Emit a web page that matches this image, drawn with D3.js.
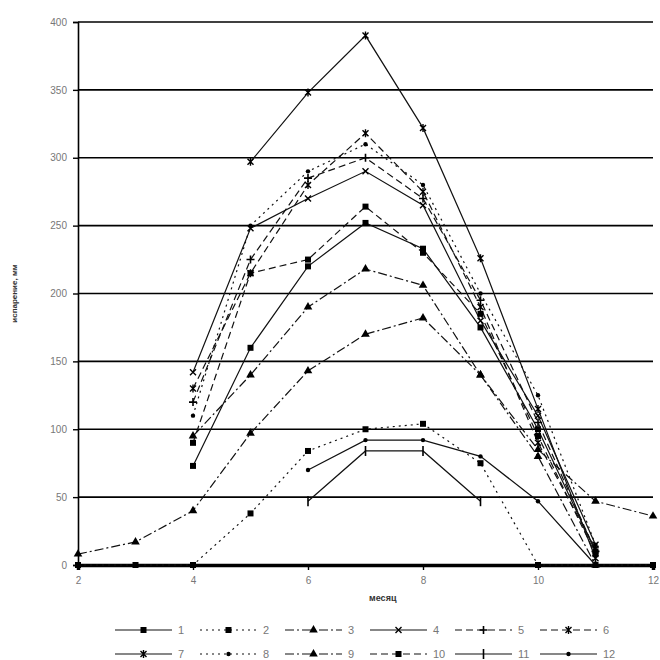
<!DOCTYPE html>
<html>
<head>
<meta charset="utf-8">
<script src="https://cdn.jsdelivr.net/npm/d3@7"></script>
<style>
  body { margin: 0; background: #fff; }
  svg { display: block; }
  .tick text { fill: #777; font-family: Arial, "Liberation Sans", sans-serif; font-size: 10px; }
</style>
</head>
<body>
<svg id="chart" width="660" height="660"></svg>
<script>
// months on the x axis
var months = [2, 3, 4, 5, 6, 7, 8, 9, 10, 11, 12];
var yTicks = [0, 50, 100, 150, 200, 250, 300, 350, 400];
var xTicks = [2, 4, 6, 8, 10, 12];
var seriesNames = ['1', '2', '3', '4', '5', '6', '7', '8', '9', '10', '11', '12'];

// values per month (null = no value)
var s1  = [null, null, 73, 160, 220, 252, 233, 175, 100, 10, null];
var s2  = [0, 0, 0, 38, 84, 100, 104, 75, 0, 0, 0];
var s3  = [8, 17, 40, 97, 143, 170, 182, 140, 85, 47, 36];
var s4  = [null, null, 142, 248, 270, 290, 265, 180, 110, 15, null];
var s5  = [null, null, 120, 225, 285, 300, 270, 195, 105, 10, null];
var s6  = [null, null, 130, 215, 280, 318, 275, 190, 90, 12, null];
var s7  = [null, null, null, 297, 348, 390, 322, 226, 115, 5, null];
var s8  = [null, null, 110, 250, 290, 310, 280, 200, 125, 15, null];
var s9  = [null, null, 95, 140, 190, 218, 206, 140, 80, 0, null];
var s10 = [null, null, 90, 215, 225, 264, 230, 185, 95, 8, null];
var s11 = [null, null, null, null, 47, 84, 84, 47, null, null, null];
var s12 = [null, null, null, null, 70, 92, 92, 80, 47, 0, null];
var allValues = [s1, s2, s3, s4, s5, s6, s7, s8, s9, s10, s11, s12];

var dotted = '2,4', dashed = '7,4', dashDot = '9,3,2,3';
var styles = [
  { dash: null,    marker: 'square' },
  { dash: dotted,  marker: 'square' },
  { dash: dashDot, marker: 'triangle' },
  { dash: null,    marker: 'x' },
  { dash: dashed,  marker: 'plus' },
  { dash: dashed,  marker: 'star' },
  { dash: null,    marker: 'star' },
  { dash: dotted,  marker: 'dot' },
  { dash: dashDot, marker: 'triangle' },
  { dash: dashed,  marker: 'square' },
  { dash: null,    marker: 'bar' },
  { dash: null,    marker: 'dot' }
];

var svg = d3.select('#chart');
var margin = { top: 22, right: 7, bottom: 95, left: 78 };
var width = 660 - margin.left - margin.right;
var height = 660 - margin.top - margin.bottom;

var x = d3.scaleLinear().domain([2, 12]).range([0, width]);
var y = d3.scaleLinear().domain([0, 400]).range([height, 0]);

var g = svg.append('g').attr('transform', 'translate(' + margin.left + ',' + margin.top + ')');

// gridlines
g.append('g').selectAll('line').data(yTicks.slice(1)).enter().append('line')
  .attr('x1', 0).attr('x2', width)
  .attr('y1', function(d) { return y(d); }).attr('y2', function(d) { return y(d); })
  .attr('stroke', '#000').attr('stroke-width', 1.6);

var yAxis = g.append('g').call(d3.axisLeft(y).tickValues(yTicks).tickSize(5).tickPadding(6));
yAxis.select('.domain').attr('stroke', '#000').attr('stroke-width', 1.6);
yAxis.selectAll('.tick line').attr('stroke', '#000').attr('stroke-width', 1.4);

var xAxis = g.append('g').attr('transform', 'translate(0,' + height + ')')
  .call(d3.axisBottom(x).tickValues(xTicks).tickSize(5).tickPadding(7).tickFormat(d3.format('d')));
xAxis.select('.domain').attr('stroke', '#000').attr('stroke-width', 3.5);
xAxis.selectAll('.tick line').attr('stroke', '#000').attr('stroke-width', 1.4);

svg.append('text')
  .attr('transform', 'translate(17,' + (margin.top + y(200)) + ') rotate(-90)')
  .attr('text-anchor', 'middle')
  .attr('font-family', 'Arial, sans-serif').attr('font-size', 8).attr('font-weight', 'bold')
  .attr('fill', '#333')
  .text('испарение, мм');

svg.append('text')
  .attr('x', margin.left + x(7.3)).attr('y', 601)
  .attr('text-anchor', 'middle')
  .attr('font-family', 'Arial, sans-serif').attr('font-size', 9).attr('font-weight', 'bold')
  .attr('fill', '#333')
  .text('месяц');

function drawMarker(sel, type) {
  var s = 3;
  if (type === 'square') {
    sel.append('rect').attr('x', -s).attr('y', -s).attr('width', 2 * s).attr('height', 2 * s).attr('fill', '#000');
  } else if (type === 'triangle') {
    sel.append('path').attr('d', d3.symbol(d3.symbolTriangle, 32)()).attr('fill', '#000');
  } else if (type === 'dot') {
    sel.append('circle').attr('r', 2.2).attr('fill', '#000');
  } else if (type === 'x') {
    sel.append('path').attr('d', 'M-3,-3L3,3M-3,3L3,-3').attr('stroke', '#000').attr('stroke-width', 1.4);
  } else if (type === 'plus') {
    sel.append('path').attr('d', 'M-4,0L4,0M0,-4L0,4').attr('stroke', '#000').attr('stroke-width', 1.6);
  } else if (type === 'bar') {
    sel.append('path').attr('d', 'M0,-5L0,5').attr('stroke', '#000').attr('stroke-width', 1.6);
  } else if (type === 'star') {
    sel.append('path').attr('d', 'M-3,-3L3,3M-3,3L3,-3M0,-4L0,4').attr('stroke', '#000').attr('stroke-width', 1.4);
  }
}

var line = d3.line()
  .defined(function(d) { return d.v !== null; })
  .x(function(d) { return x(d.m); })
  .y(function(d) { return y(d.v); });

allValues.forEach(function(vals, i) {
  var pts = months.map(function(m, j) { return { m: m, v: vals[j] }; });
  g.append('path').datum(pts)
    .attr('d', line)
    .attr('fill', 'none')
    .attr('stroke', '#111')
    .attr('stroke-width', 1.2)
    .attr('stroke-dasharray', styles[i].dash);
  g.append('g').selectAll('g').data(pts.filter(function(d) { return d.v !== null; }))
    .enter().append('g')
    .attr('transform', function(d) { return 'translate(' + x(d.m) + ',' + y(d.v) + ')'; })
    .each(function() { drawMarker(d3.select(this), styles[i].marker); });
});

// legend, two rows of six
var legend = svg.append('g');
seriesNames.forEach(function(name, i) {
  var col = i % 6, row = Math.floor(i / 6);
  var lx = 115 + col * 85, ly = 630 + row * 24;
  var item = legend.append('g').attr('transform', 'translate(' + lx + ',' + ly + ')');
  item.append('line').attr('x1', 0).attr('x2', 57).attr('y1', 0).attr('y2', 0)
    .attr('stroke', '#111').attr('stroke-width', 1.2)
    .attr('stroke-dasharray', styles[i].dash);
  drawMarker(item.append('g').attr('transform', 'translate(28.5,0)'), styles[i].marker);
  item.append('text').attr('x', 63).attr('y', 4)
    .attr('font-family', 'Arial, sans-serif').attr('font-size', 11)
    .attr('fill', '#777')
    .text(name);
});
</script>
</body>
</html>
